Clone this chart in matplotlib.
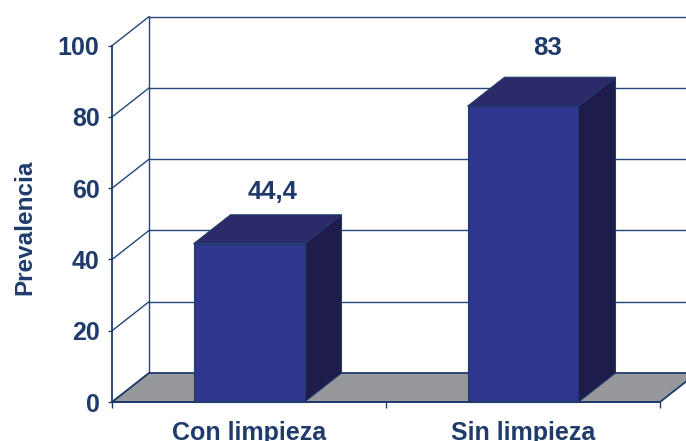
import matplotlib.pyplot as plt

# prevalence by group
categories = ['Con limpieza', 'Sin limpieza']
prevalence = [44.4, 83]
value_labels = ['44,4', '83']
y_ticks = [0, 20, 40, 60, 80, 100]

navy = '#1f3b6b'
grid_col = '#24467a'
floor_col = '#97989b'
front_col = '#2e368d'
top_col = '#2c2a68'
side_col = '#1e1c4b'

plt.rcParams['font.family'] = ['Liberation Sans', 'DejaVu Sans']
plt.rcParams['font.weight'] = 'bold'

fig = plt.figure(figsize=(6.86, 4.41), dpi=100)
ax = fig.add_axes([0.1633, 0.0884, 0.7988, 0.808])
ax.set_xlim(0, 2)
ax.set_ylim(0, 100)

# depth of the fake 3d box (data units)
dx, dy = 0.135, 8.14
bar_w = 0.405

# back wall: left edge and horizontal grid
ax.plot([dx, dx], [dy, 100 + dy], color=grid_col, lw=1.0, clip_on=False, zorder=1)
for v in y_ticks[1:]:
    ax.plot([dx, 2 + dx + 0.3], [v + dy, v + dy], color=grid_col, lw=1.0,
            clip_on=False, zorder=1)

# side wall diagonals
for v in y_ticks:
    ax.plot([0, dx], [v, v + dy], color=grid_col, lw=1.0, clip_on=False, zorder=1)

# floor
ax.fill([0, 2, 2 + dx, dx], [0, 0, dy, dy], facecolor=floor_col,
        edgecolor=navy, lw=1.3, clip_on=False, zorder=2)

# bars: side, top, front faces
offsets = [6.3, 8.3]
for i, v in enumerate(prevalence):
    x0 = i + 0.5 - bar_w / 2
    x1 = x0 + bar_w
    ax.fill([x1, x1 + dx, x1 + dx, x1], [0, dy, v + dy, v], facecolor=side_col,
            edgecolor=navy, lw=0.8, clip_on=False, zorder=3)
    ax.fill([x0, x1, x1 + dx, x0 + dx], [v, v, v + dy, v + dy], facecolor=top_col,
            edgecolor=navy, lw=0.8, clip_on=False, zorder=3)
    ax.fill([x0, x1, x1, x0], [0, 0, v, v], facecolor=front_col,
            edgecolor=navy, lw=0.8, clip_on=False, zorder=4)
    ax.text(i + 0.5 + dx * 0.65, v + dy + offsets[i], value_labels[i], ha='center',
            va='center', fontsize=18.5, fontweight='bold', color=navy)

for s in ['top', 'right']:
    ax.spines[s].set_visible(False)
for s in ['left', 'bottom']:
    ax.spines[s].set_color(navy)
    ax.spines[s].set_linewidth(1.3)
    ax.spines[s].set_zorder(5)
ax.patch.set_visible(False)

ax.set_yticks(y_ticks)
ax.tick_params(axis='y', length=3, width=1, color=navy, pad=6,
               labelsize=18, labelcolor=navy)
ax.set_xticks([0.5, 1.5])
ax.set_xticklabels(categories)
ax.set_xticks([0, 1, 2], minor=True)
ax.tick_params(axis='x', which='major', length=0, pad=14,
               labelsize=18, labelcolor=navy)
ax.tick_params(axis='x', which='minor', length=4, width=1, color=navy)

fig.text(25 / 686, 1 - 227 / 441, 'Prevalencia', rotation=90, ha='center',
         va='center', fontsize=17.5, fontweight='bold', color=navy)

fig.savefig('out.png', dpi=100)
